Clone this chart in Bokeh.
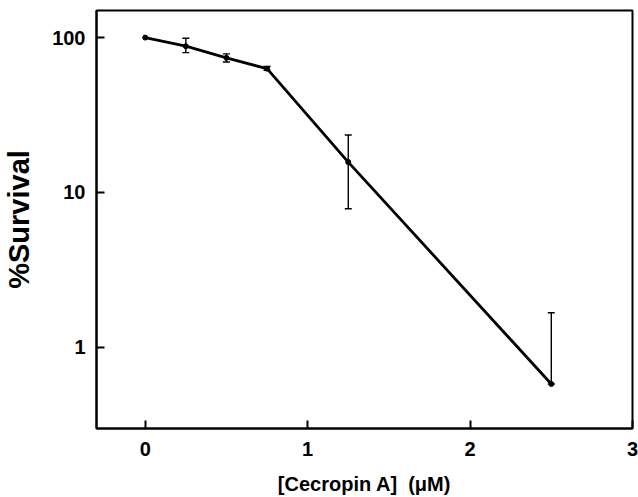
from bokeh.plotting import figure
from bokeh.models import ColumnDataSource, Whisker, TeeHead, FixedTicker, NumeralTickFormatter, Range1d
from bokeh.embed import file_html
from bokeh.resources import INLINE

conc = [0.0, 0.25, 0.5, 0.75, 1.25, 2.5]
survival = [100.0, 88.0, 74.0, 63.0, 15.7, 0.58]
err_upper = [100.0, 99.0, 78.5, 65.0, 23.5, 1.67]
err_lower = [100.0, 80.0, 69.5, 61.5, 7.85, 0.58]
x_ticks = [0, 1, 2, 3]
y_ticks = [1, 10, 100]

src = ColumnDataSource(dict(x=conc, y=survival, upper=err_upper, lower=err_lower))
err_src = ColumnDataSource(dict(x=conc[1:], upper=err_upper[1:], lower=err_lower[1:]))

p = figure(width=638, height=497, y_axis_type="log", output_backend="svg",
           toolbar_location=None,
           x_range=Range1d(-0.3, 3.0), y_range=Range1d(0.299, 149.6),
           min_border_left=96, min_border_right=6, min_border_top=10, min_border_bottom=69)

p.line("x", "y", source=src, line_color="black", line_width=2.8)
p.scatter("x", "y", source=src, size=5, color="black")

w = Whisker(source=err_src, base="x", upper="upper", lower="lower",
            line_color="black", line_width=1.4,
            upper_head=TeeHead(size=7, line_color="black", line_width=1.4),
            lower_head=TeeHead(size=7, line_color="black", line_width=1.4))
p.add_layout(w)

p.xgrid.visible = False
p.ygrid.visible = False
p.outline_line_color = "black"
p.outline_line_width = 2
p.background_fill_color = "white"
p.border_fill_color = "white"

for ax in (p.xaxis[0], p.yaxis[0]):
    ax.axis_line_width = 2
    ax.axis_line_color = "black"
    ax.major_tick_in = 8
    ax.major_tick_out = 0
    ax.major_tick_line_width = 2
    ax.minor_tick_line_color = None
    ax.major_label_text_font = "Liberation Sans"
    ax.major_label_text_font_style = "bold"
    ax.major_label_text_font_size = "20px"
    ax.major_label_text_color = "black"
    ax.axis_label_text_font = "Liberation Sans"
    ax.axis_label_text_font_style = "bold"
    ax.axis_label_text_color = "black"

p.xaxis.ticker = FixedTicker(ticks=x_ticks)
p.yaxis.ticker = FixedTicker(ticks=y_ticks)
p.yaxis.formatter = NumeralTickFormatter(format="0")
p.xaxis.major_label_standoff = 13
p.yaxis.major_label_standoff = 11
p.xaxis.axis_label = "[Cecropin A]\u00a0\u00a0(\u03bcM)"
p.xaxis.axis_label_text_font_size = "20px"
p.xaxis.axis_label_standoff = 14
p.yaxis.axis_label = "%Survival"
p.yaxis.axis_label_text_font_size = "29px"
p.yaxis.axis_label_standoff = 14

open("out.html", "w").write(file_html(p, INLINE))
